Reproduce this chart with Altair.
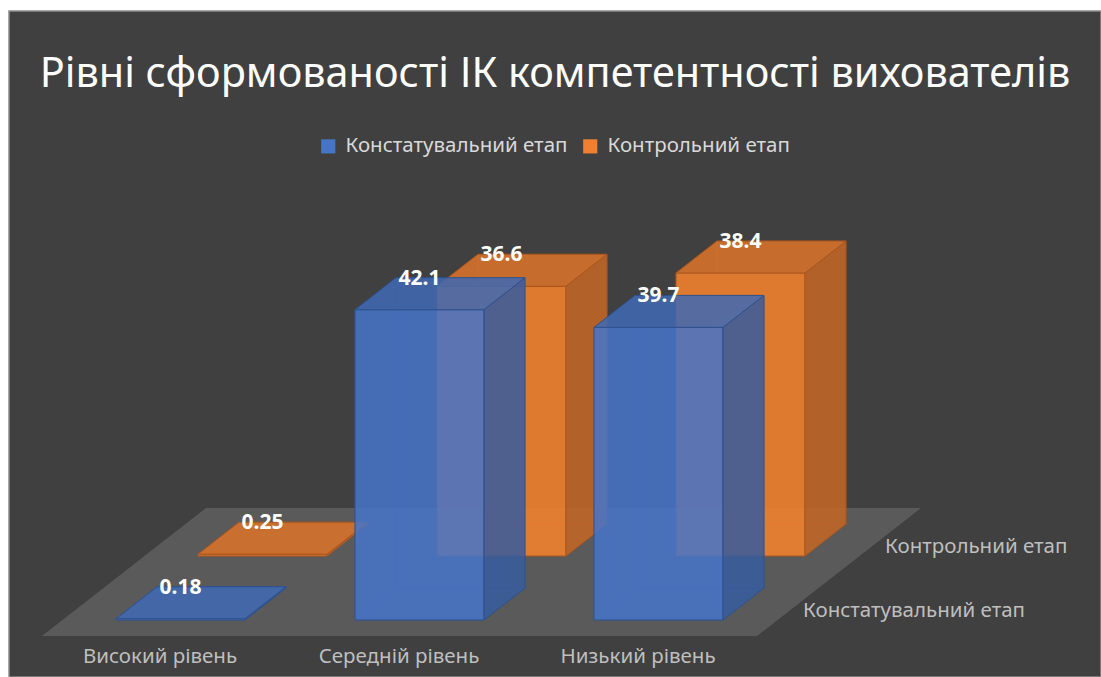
import altair as alt
import pandas as pd

# ---------------- data ----------------
title_text = "Рівні сформованості ІК компетентності вихователів"
categories = ["Високий рівень", "Середній рівень", "Низький рівень"]
series = ["Констатувальний етап", "Контрольний етап"]
values_konst = [0.18, 42.1, 39.7]
values_kontr = [0.25, 36.6, 38.4]
series_values = [values_konst, values_kontr]

# ---------------- styling / geometry (not data) ----------------
FONT = "Noto Sans"
BG = "#404040"
FLOOR = "#5a5a5a"
FRONT = ["#4675C8", "#F0802F"]
TOP = ["#3f69b3", "#d5722c"]
SIDE = ["#375c9e", "#bf6527"]
EDGE = ["#2f528f", "#a9561f"]
OPAC = [0.86, 0.9]
LABEL_SIZE = 20.5

W_BAR = 129 / 239      # bar width in category units
KX = 41 / 239          # horizontal shift of one bar depth (category units)
KY = 32 / 7.37         # vertical shift of one bar depth (value units)
ROW_STEP = 2           # depth units between series rows
FLOOR_X = (-0.224, 2.768)
FLOOR_D = (-0.5, 3.5)

VW, VH = 1092, 666
XS = alt.Scale(domain=[-107 / 239, (VW - 107) / 239], nice=False, zero=False)
YS = alt.Scale(domain=[(609 - VH) / 7.37, 609 / 7.37], nice=False, zero=False)

# ---------------- derived tables ----------------
bars = pd.DataFrame(
    [dict(series=s, row=j, cat=c, idx=i, value=v)
     for j, (s, vals) in enumerate(zip(series, series_values))
     for i, (c, v) in enumerate(zip(categories, vals))]
)


def vert_face(kind):
    recs = []
    for b in bars.itertuples():
        d0 = ROW_STEP * b.row
        d1 = d0 + 1
        xl, xr = b.idx, b.idx + W_BAR
        pts = {"front": [(xl, d0), (xr, d0)], "back": [(xl, d1), (xr, d1)],
               "right": [(xr, d0), (xr, d1)], "left": [(xl, d0), (xl, d1)]}[kind]
        for xx, d in pts:
            recs.append(dict(bar=f"{b.series}|{b.cat}", series=b.series, row=b.row,
                             x=xx + d * KX, y=d * KY, y2=b.value + d * KY))
    return pd.DataFrame(recs)


def horiz_face(kind):
    recs = []
    for b in bars.itertuples():
        d0 = ROW_STEP * b.row
        d1 = d0 + 1
        h = b.value if kind == "top" else 0.0
        for d in (d0, d1):
            recs.append(dict(bar=f"{b.series}|{b.cat}", series=b.series, row=b.row,
                             y=h + d * KY, x=b.idx + d * KX, x2=b.idx + W_BAR + d * KX))
    return pd.DataFrame(recs)


faces = {k: vert_face(k) for k in ["front", "back", "right", "left"]}
faces.update({k: horiz_face(k) for k in ["top", "bottom"]})

floor_df = pd.DataFrame([dict(y=d * KY, x=FLOOR_X[0] + d * KX, x2=FLOOR_X[1] + d * KX)
                         for d in FLOOR_D])

legend = alt.Legend(orient="none", legendX=309, legendY=125, direction="horizontal",
                    title=None, symbolType="square", symbolSize=200, symbolOpacity=1,
                    symbolStrokeWidth=0, labelFont=FONT, labelFontSize=LABEL_SIZE,
                    labelColor="#d9d9d9", labelOffset=7, columnPadding=12, labelLimit=0)


def vlayer(df, fill=None, opacity=1.0, stroke=None, sw=1.0, stroke_op=1.0, legend_color=False):
    kw = dict(orient="vertical", interpolate="linear", strokeWidth=sw, strokeOpacity=stroke_op)
    if stroke:
        kw["stroke"] = stroke
    if fill:
        kw["fill"] = fill
    kw["fillOpacity"] = opacity
    enc = dict(x=alt.X("x:Q", scale=XS, axis=None), y=alt.Y("y:Q", scale=YS, axis=None),
               y2="y2:Q", detail="bar:N")
    if legend_color:
        enc["color"] = alt.Color("series:N", scale=alt.Scale(domain=series, range=FRONT),
                                 legend=legend)
    return alt.Chart(df).mark_area(**kw).encode(**enc)


def hlayer(df, fill=None, opacity=1.0, stroke=None, sw=1.0, stroke_op=1.0, detail=True):
    kw = dict(orient="horizontal", interpolate="linear", strokeWidth=sw, strokeOpacity=stroke_op)
    if stroke:
        kw["stroke"] = stroke
    if fill:
        kw["fill"] = fill
    kw["fillOpacity"] = opacity
    enc = dict(y=alt.Y("y:Q", scale=YS, axis=None), x=alt.X("x:Q", scale=XS, axis=None),
               x2="x2:Q")
    if detail:
        enc["detail"] = "bar:N"
    return alt.Chart(df).mark_area(**kw).encode(**enc)


layers = [hlayer(floor_df, fill=FLOOR, opacity=1.0, sw=0, detail=False)]

for j in [1, 0]:
    sel = {k: v[v["row"] == j] for k, v in faces.items()}
    # hidden (rear) edges visible through the transparent bars
    for k in ["back", "left"]:
        layers.append(vlayer(sel[k], fill=FRONT[j], opacity=0.0, stroke=EDGE[j], sw=0.8, stroke_op=0.35))
    layers.append(hlayer(sel["bottom"], fill=FRONT[j], opacity=0.0, stroke=EDGE[j], sw=0.8, stroke_op=0.35))
    # visible faces
    layers.append(vlayer(sel["front"], opacity=OPAC[j], stroke=EDGE[j], sw=1.0, legend_color=True))
    layers.append(vlayer(sel["right"], fill=SIDE[j], opacity=OPAC[j], stroke=EDGE[j], sw=1.0))
    layers.append(hlayer(sel["top"], fill=TOP[j], opacity=OPAC[j], stroke=EDGE[j], sw=1.0))

# data labels on the top faces
lab = bars.copy()
lab["x"] = lab["idx"] + W_BAR / 2 + ROW_STEP * lab["row"] * KX
lab["y"] = lab["value"] + (ROW_STEP * lab["row"] + 1) * KY
lab["label"] = lab["value"].map(lambda v: f"{v:g}")
layers.append(
    alt.Chart(lab).mark_text(font=FONT, fontSize=21, fontWeight="bold", color="white",
                             baseline="middle", align="center", dy=1)
    .encode(x=alt.X("x:Q", scale=XS, axis=None), y=alt.Y("y:Q", scale=YS, axis=None),
            text="label:N")
)

# category labels along the front of the floor
cat_df = pd.DataFrame(dict(cat=categories, idx=list(range(len(categories)))))
cat_df["x"] = cat_df["idx"] + W_BAR / 2 + FLOOR_D[0] * KX
cat_df["y"] = FLOOR_D[0] * KY
layers.append(
    alt.Chart(cat_df).mark_text(font=FONT, fontSize=LABEL_SIZE, color="#bfbfbf",
                                baseline="middle", align="center", dy=21)
    .encode(x=alt.X("x:Q", scale=XS, axis=None), y=alt.Y("y:Q", scale=YS, axis=None),
            text="cat:N")
)

# series labels along the right side of the floor
ser_df = pd.DataFrame(dict(series=series, row=[0, 1]))
ser_df["d"] = ser_df["row"] * ROW_STEP + 0.5
ser_df["x"] = FLOOR_X[1] + ser_df["d"] * KX
ser_df["y"] = ser_df["d"] * KY
layers.append(
    alt.Chart(ser_df).mark_text(font=FONT, fontSize=LABEL_SIZE, color="#bfbfbf",
                                baseline="middle", align="left", dx=5, dy=7)
    .encode(x=alt.X("x:Q", scale=XS, axis=None), y=alt.Y("y:Q", scale=YS, axis=None),
            text="series:N")
)

chart = (
    alt.layer(*layers)
    .properties(
        width=VW, height=VH,
        autosize=alt.AutoSizeParams(type="none"),
        padding={"left": 9, "top": 11, "right": 0, "bottom": 0},
        background="white",
        title=alt.Title(title_text, font=FONT, fontSize=41.4, fontWeight="normal",
                        color="white", anchor="middle", frame="group", offset=0, dy=84),
    )
    .configure_view(fill=BG, stroke="#8c8c8c", strokeWidth=1.5)
)

chart.save("out.html", embed_options={"renderer": "svg", "actions": False})
